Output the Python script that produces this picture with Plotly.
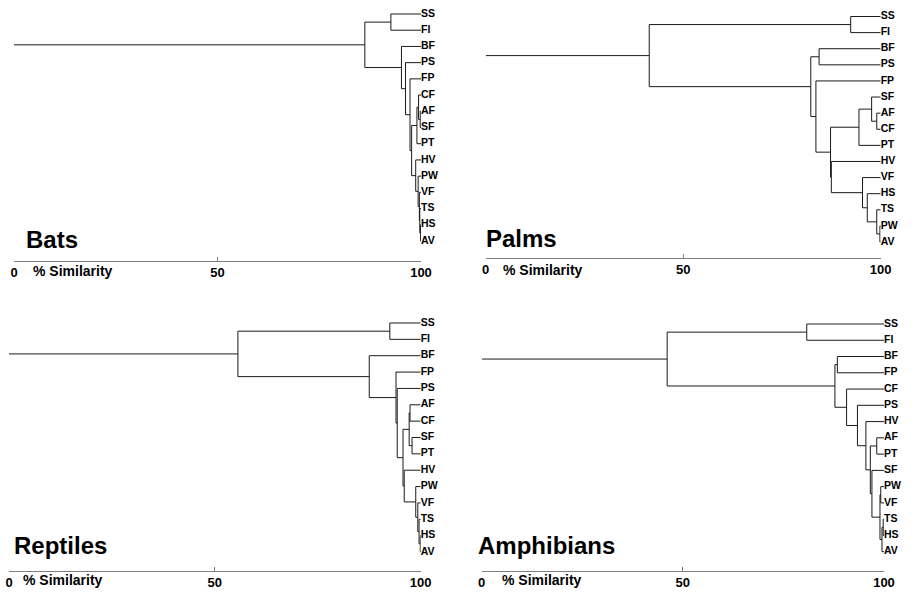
import plotly.graph_objects as go

W, H = 918, 592

# ---------------- data: leaf orders and merge trees [similarity, left, right] ----------------
BATS_LEAVES = ["SS", "FI", "BF", "PS", "FP", "CF", "AF", "SF", "PT", "HV", "PW", "VF", "TS", "HS", "AV"]
BATS_TREE = [86.2, [92.6, "SS", "FI"],
             [95.2, "BF",
              [96.2, "PS",
               [97.3, "FP",
                [97.7,
                 [99.0, [99.4, "CF", [99.8, "AF", "SF"]], "PT"],
                 [98.7, "HV", [99.3, "PW", [99.6, "VF", [99.7, "TS", [99.9, "HS", "AV"]]]]]]]]]]

PALMS_LEAVES = ["SS", "FI", "BF", "PS", "FP", "SF", "AF", "CF", "PT", "HV", "VF", "HS", "TS", "PW", "AV"]
PALMS_TREE = [41.4, [92.4, "SS", "FI"],
              [82.3,
               [84.4, "BF", "PS"],
               [83.6, "FP",
                [87.3,
                 [94.5, [97.7, "SF", [99.0, "AF", "CF"]], "PT"],
                 [87.5, "HV", [95.4, "VF", [96.6, "HS", [99.0, "TS", [99.8, "PW", "AV"]]]]]]]]]

REPTILES_LEAVES = ["SS", "FI", "BF", "FP", "PS", "AF", "CF", "SF", "PT", "HV", "PW", "VF", "TS", "HS", "AV"]
REPTILES_TREE = [55.6, [92.5, "SS", "FI"],
                 [87.5, "BF",
                  [94.0, "FP",
                   [94.3, "PS",
                    [95.7,
                     [97.2, [97.4, "AF", "CF"], [97.9, "SF", "PT"]],
                     [96.0, "HV", [98.8, "PW", [99.3, "VF", [99.6, "TS", [99.9, "HS", "AV"]]]]]]]]]]

AMPHIBIANS_LEAVES = ["SS", "FI", "BF", "FP", "CF", "PS", "HV", "AF", "PT", "SF", "PW", "VF", "TS", "HS", "AV"]
AMPHIBIANS_TREE = [46.1, [80.8, "SS", "FI"],
                   [87.8,
                    [88.4, "BF", "FP"],
                    [90.7, "CF",
                     [93.4, "PS",
                      [95.5, "HV",
                       [96.6,
                        [98.2, "AF", "PT"],
                        [97.0, "SF",
                         [99.0, [99.2, "PW", "VF"], [99.5, [99.8, "TS", "HS"], "AV"]]]]]]]]]

PANEL_TITLES = ["Bats", "Palms", "Reptiles", "Amphibians"]
AXIS_TICKS = [0, 50, 100]
AXIS_TICK_LABELS = ["0", "50", "100"]
AXIS_LABEL = "% Similarity"

PANEL_DATA = [(BATS_LEAVES, BATS_TREE), (PALMS_LEAVES, PALMS_TREE),
              (REPTILES_LEAVES, REPTILES_TREE), (AMPHIBIANS_LEAVES, AMPHIBIANS_TREE)]

# ---------------- geometry (pixels) ----------------
GEOM = [
    dict(x0=14, x100=421, ytop=14, ybot=241, ax=260.7, title=(24, 239), sim=(31, 271)),
    dict(x0=485.7, x100=880.7, ytop=16.5, ybot=242, ax=257.7, title=(484, 238.5), sim=(501, 270)),
    dict(x0=9, x100=420.7, ytop=323, ybot=552, ax=570.7, title=(12, 545), sim=(21, 580)),
    dict(x0=481.7, x100=884, ytop=324, ybot=551.7, ax=570.7, title=(476, 545), sim=(500, 580)),
]

FONT = "Liberation Sans, Arial, sans-serif"
LINE_COLOR = "#1a1a1a"
AXIS_COLOR = "#7f7f7f"


def build_segments(node, leaves, xs, ys):
    """Return (x, y) of node's attachment point; append segments."""
    if isinstance(node, str):
        return 100.0, float(leaves.index(node))
    h, a, b = node
    xa, ya = build_segments(a, leaves, xs, ys)
    xb, yb = build_segments(b, leaves, xs, ys)
    xs.extend([xa, h, h, xb, None])
    ys.extend([ya, ya, yb, yb, None])
    return h, (ya + yb) / 2.0


fig = go.Figure()
annotations = []
PAD = 0.45

for i, ((leaves, tree), g, title) in enumerate(zip(PANEL_DATA, GEOM, PANEL_TITLES)):
    n = i + 1
    xname = "x" if n == 1 else f"x{n}"
    yname = "y" if n == 1 else f"y{n}"
    xs, ys = [], []
    hr, yr = build_segments(tree, leaves, xs, ys)
    xs.extend([0, hr, None])
    ys.extend([yr, yr, None])

    fig.add_trace(go.Scatter(x=xs, y=ys, mode="lines", xaxis=xname, yaxis=yname,
                             line=dict(color=LINE_COLOR, width=1), hoverinfo="skip",
                             showlegend=False))
    fig.add_trace(go.Scatter(x=[100] * len(leaves), y=list(range(len(leaves))), mode="text",
                             text=leaves, textposition="middle right", cliponaxis=False,
                             textfont=dict(family=FONT, size=10.5, color="#000000", weight="bold"),
                             xaxis=xname, yaxis=yname, hoverinfo="skip", showlegend=False))

    nleaf = len(leaves) - 1
    sp = (g["ybot"] - g["ytop"]) / nleaf
    top_px = g["ytop"] - PAD * sp
    bot_px = g["ybot"] + PAD * sp

    fig.layout[f"xaxis{'' if n == 1 else n}"] = dict(
        domain=[g["x0"] / W, g["x100"] / W], range=[0, 100], anchor="free",
        position=1 - g["ax"] / H, showline=True, linecolor=AXIS_COLOR, linewidth=1,
        ticks="inside", ticklen=4, tickcolor=AXIS_COLOR, tickwidth=1, automargin=False,
        tickvals=AXIS_TICKS, ticktext=AXIS_TICK_LABELS, showgrid=False, zeroline=False,
        tickfont=dict(family=FONT, size=13, color="#000000", weight="bold"), fixedrange=True)
    fig.layout[f"yaxis{'' if n == 1 else n}"] = dict(
        domain=[1 - bot_px / H, 1 - top_px / H], range=[nleaf + PAD, -PAD], anchor="free",
        position=g["x0"] / W, visible=False, fixedrange=True, automargin=False)

    annotations.append(dict(x=g["title"][0] / W, y=1 - g["title"][1] / H, xref="paper", yref="paper",
                            xanchor="left", yanchor="middle", showarrow=False, text=title,
                            font=dict(family=FONT, size=24, color="#000000", weight="bold")))
    annotations.append(dict(x=g["sim"][0] / W, y=1 - g["sim"][1] / H, xref="paper", yref="paper",
                            xanchor="left", yanchor="middle", showarrow=False, text=AXIS_LABEL,
                            font=dict(family=FONT, size=14, color="#000000", weight="bold")))

fig.update_layout(width=W, height=H, margin=dict(l=0, r=0, t=0, b=0, pad=0, autoexpand=False),
                  paper_bgcolor="white", plot_bgcolor="white", annotations=annotations,
                  showlegend=False)

fig.write_html("out.html")
